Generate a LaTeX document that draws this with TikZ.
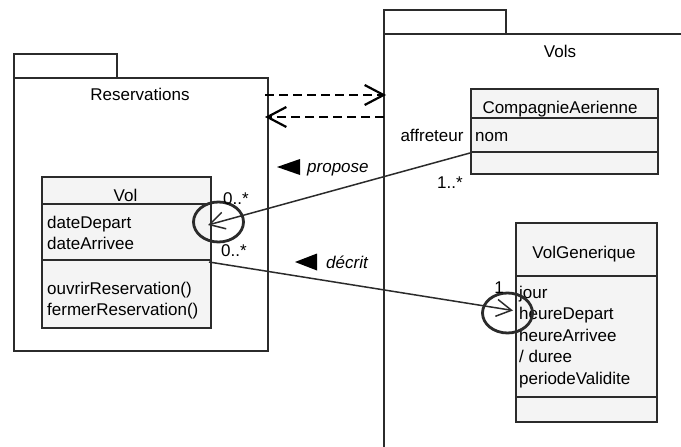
\documentclass[tikz,border=0pt]{standalone}
\usepackage{fontspec}
\setmainfont{Liberation Sans}
\usetikzlibrary{arrows.meta,shapes.geometric}
\definecolor{ln}{HTML}{2B2B2B}
\definecolor{clsfill}{HTML}{F4F4F4}
\tikzset{
 txt/.style={inner sep=0pt, font=\fontsize{17}{20}\selectfont, text=black},
 pkg/.style={draw=ln, line width=1.4pt, fill=white},
 cls/.style={draw=ln, line width=2.2pt, fill=clsfill, inner sep=0pt, anchor=north west},
 sep/.style={draw=ln, line width=1.6pt},
 assoc/.style={draw=ln, line width=1.5pt, -{Straight Barb[length=15pt,width=17pt,line width=1.5pt]}},
 dep/.style={draw=black, dash pattern=on 9pt off 5pt, -{Straight Barb[length=19pt,width=20pt,line width=2.2pt]}},
 hl/.style={ellipse, draw=ln, line width=2.8pt, minimum width=50pt, minimum height=40pt, inner sep=0pt},
 tri/.style={fill=black},
}
\begin{document}
\begin{tikzpicture}[x=1pt,y=-1pt]
\useasboundingbox (0,0) rectangle (681,447);
\begin{scope}
\clip (0,0) rectangle (681,447);
% packages
\draw[pkg] (14,54) rectangle (117,78);
\draw[pkg] (14,78) rectangle (268,351);
\node[txt] (resname) at (140,94) {Reservations};
\draw[pkg] (384,10) rectangle (506,34);
\draw[pkg] (384,34) rectangle (700,470);
\node[txt] (volsname) at (560,51) {Vols};
\end{scope}
% class Vol
\node[cls, minimum width=169pt, minimum height=151pt] (vol) at (41,176) {};
\draw[sep] (41,204) -- (210,204);
\draw[sep] (41,260) -- (210,260);
\node[txt, anchor=base] (volname) at (125.5,201) {Vol};
\node[txt, anchor=base west] (vola1) at (47,228) {dateDepart};
\node[txt, anchor=base west] (vola2) at (47,249.5) {dateArrivee};
\node[txt, anchor=base west] (volo1) at (47,294) {ouvrirReservation()};
\node[txt, anchor=base west] (volo2) at (47,315.5) {fermerReservation()};
% class CompagnieAerienne
\node[cls, minimum width=187pt, minimum height=85pt] (ca) at (470,88) {};
\draw[sep] (470,118) -- (657,118);
\draw[sep] (470,152) -- (657,152);
\node[txt, anchor=base] (caname) at (560,113) {CompagnieAerienne};
\node[txt, anchor=base west] (caa1) at (475,141) {nom};
% class VolGenerique
\node[cls, minimum width=141pt, minimum height=199pt] (vg) at (515,222) {};
\draw[sep] (515,276) -- (656,276);
\draw[sep] (515,397) -- (656,397);
\node[txt, anchor=base] (vgname) at (584,258) {VolGenerique};
\node[txt, anchor=base west] (vga1) at (519,298) {jour};
\node[txt, anchor=base west] (vga2) at (519,319.5) {heureDepart};
\node[txt, anchor=base west] (vga3) at (519,341) {heureArrivee};
\node[txt, anchor=base west] (vga4) at (519,362.5) {/ duree};
\node[txt, anchor=base west] (vga5) at (519,384) {periodeValidite};
% dependencies
\coordinate (resR1) at (265,95);
\coordinate (volsL1) at (386,95);
\coordinate (volsL2) at (384,117);
\coordinate (resR2) at (265,117);
\draw[dep, line width=2.6pt] (resR1) -- (volsL1);
\draw[dep, line width=1.8pt] (volsL2) -- (resR2);
% associations
\coordinate (caP) at (470,153);
\coordinate (volP) at (208,225);
\draw[assoc] (caP) -- (volP);
\coordinate (volQ) at (209,262);
\coordinate (vgP) at (513,310.5);
\draw[assoc] (volQ) -- (vgP);
% highlight ellipses
\node[hl] (hl1) at (218.5,222) {};
\node[hl] (hl2) at (507.5,313) {};
% labels
\node[txt, anchor=base] (m1) at (236,204) {0..*};
\node[txt, anchor=base] (m2) at (234,256) {0..*};
\node[txt, anchor=base] (m3) at (450,188) {1..*};
\node[txt, anchor=base] (m4) at (499,293) {1};
\node[txt, anchor=base] (role) at (432,141) {affreteur};
\fill[tri] (277,167) -- (300,159) -- (300,175) -- cycle;
\node[txt, anchor=base west, font=\fontsize{17}{20}\selectfont\itshape] (lp) at (307,172) {propose};
\fill[tri] (295,262) -- (317,253.5) -- (317,270.5) -- cycle;
\node[txt, anchor=base west, font=\fontsize{17}{20}\selectfont\itshape] (ld) at (326,268) {décrit};
\end{tikzpicture}
\end{document}
